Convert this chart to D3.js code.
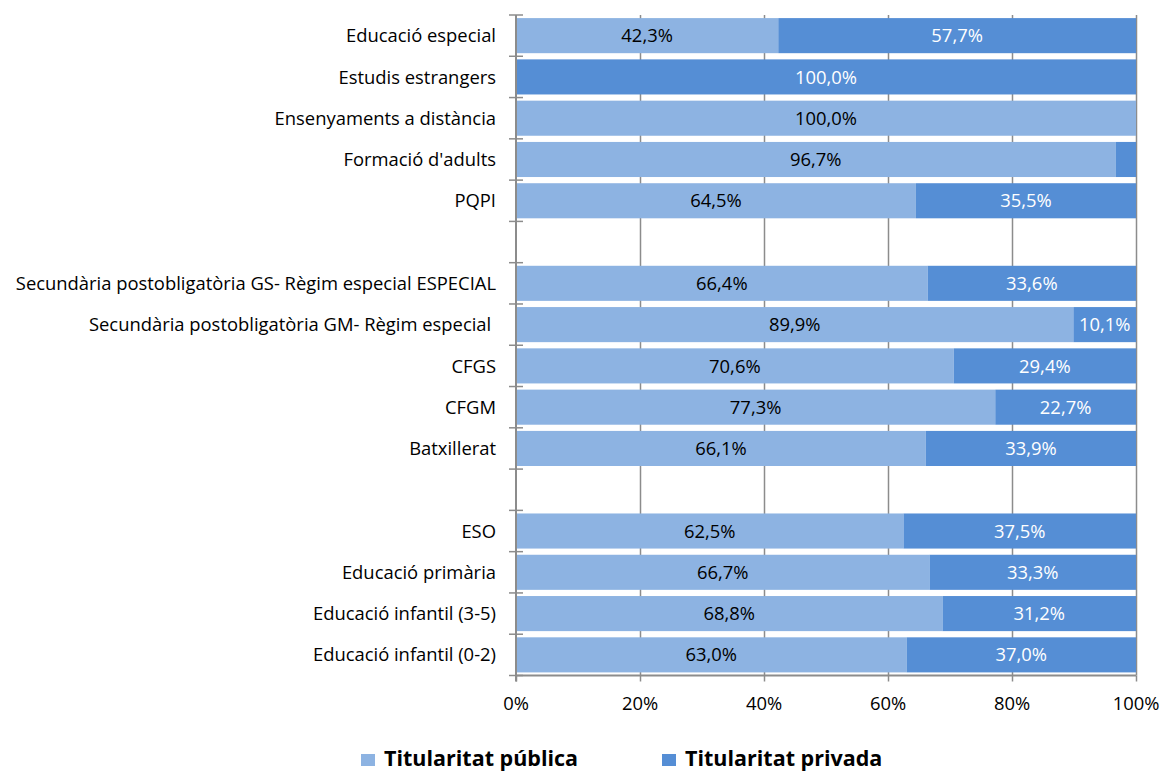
<!DOCTYPE html>
<html><head><meta charset="utf-8">
<script src="https://cdn.jsdelivr.net/npm/d3@7"></script>
<style>body{margin:0;background:#fff;} svg{display:block;} .ylab{white-space:pre;}</style>
</head><body>
<svg id="c" width="1162" height="771"></svg>
<script>
const categories = ["Educació especial","Estudis estrangers","Ensenyaments a distància","Formació d'adults","PQPI","",
 "Secundària postobligatòria GS- Règim especial ESPECIAL","Secundària postobligatòria GM- Règim especial ","CFGS","CFGM","Batxillerat"," ",
 "ESO","Educació primària","Educació infantil (3-5)","Educació infantil (0-2)"];
const publica = [42.3,0,100,96.7,64.5,null,66.4,89.9,70.6,77.3,66.1,null,62.5,66.7,68.8,63.0];
const privada = [57.7,100,0,3.3,35.5,null,33.6,10.1,29.4,22.7,33.9,null,37.5,33.3,31.2,37.0];
const showLabel = [[true,true],[false,true],[true,false],[true,false],[true,true],[false,false],[true,true],[true,true],[true,true],[true,true],[true,true],[false,false],[true,true],[true,true],[true,true],[true,true]];
const xTicks = [0,20,40,60,80,100];
const seriesNames = ["Titularitat pública","Titularitat privada"];
const colors = ["#8DB3E2","#558ED5"];
const font = "'Open Sans', sans-serif";
const fs = 18.4;

const svg = d3.select("#c");
const L=516,R=1136,T=15,B=675.5;
const x = d3.scaleLinear().domain([0,100]).range([L,R]);
const y = d3.scaleBand().domain(d3.range(categories.length)).range([T,B]).paddingInner(0.15).paddingOuter(0.075);
const yb = d3.scaleBand().domain(d3.range(categories.length)).range([T,B]);

// gridlines
svg.append("g").selectAll("line").data(xTicks.slice(1)).join("line")
 .attr("x1",d=>Math.round(x(d))+0.5).attr("x2",d=>Math.round(x(d))+0.5).attr("y1",T).attr("y2",B)
 .attr("stroke","#8c8c8c").attr("stroke-width",1.5);

const fmt = v => v.toFixed(1).replace(".",",")+"%";
const g = svg.append("g");
categories.forEach((c,i)=>{
  if(publica[i]===null) return;
  const segs=[[0,publica[i]],[publica[i],publica[i]+privada[i]]];
  segs.forEach((s,k)=>{
    if(s[1]-s[0]<=0) return;
    g.append("rect").attr("x",x(s[0])).attr("width",x(s[1])-x(s[0]))
     .attr("y",y(i)).attr("height",y.bandwidth()).attr("fill",colors[k]);
    if(showLabel[i][k]){
      g.append("text").attr("x",(x(s[0])+x(s[1]))/2).attr("y",y(i)+y.bandwidth()/2)
       .attr("dy","0.36em").attr("text-anchor","middle").attr("font-family",font).attr("font-size",fs)
       .attr("fill",k===0?"#000":"#fff").text(fmt(k===0?publica[i]:privada[i]));
    }
  });
});

// y axis
svg.append("line").attr("x1",L).attr("x2",L).attr("y1",T).attr("y2",B+6).attr("stroke","#8c8c8c").attr("stroke-width",2);
const yt = d3.range(categories.length+1).map(i=>T+i*yb.bandwidth());
svg.append("g").selectAll("line").data(yt).join("line")
 .attr("x1",509).attr("x2",523).attr("y1",d=>d).attr("y2",d=>d).attr("stroke","#8c8c8c").attr("stroke-width",1.5);
svg.append("g").selectAll("text").data(categories).join("text").attr("class","ylab")
 .attr("x",496).attr("y",(d,i)=>yb(i)+yb.bandwidth()/2).attr("dy","0.36em").attr("text-anchor","end")
 .attr("font-family",font).attr("font-size",fs).attr("fill","#000").text(d=>d);

// x axis
svg.append("line").attr("x1",L).attr("x2",R).attr("y1",B).attr("y2",B).attr("stroke","#8c8c8c").attr("stroke-width",2);
svg.append("g").selectAll("line").data(xTicks).join("line")
 .attr("x1",d=>Math.round(x(d))+0.5).attr("x2",d=>Math.round(x(d))+0.5).attr("y1",B).attr("y2",B+6)
 .attr("stroke","#8c8c8c").attr("stroke-width",1.5);
svg.append("g").selectAll("text").data(xTicks).join("text")
 .attr("x",d=>x(d)).attr("y",710).attr("text-anchor","middle").attr("font-family",font).attr("font-size",fs)
 .text(d=>d+"%");

// legend
const lx=[361,662];
seriesNames.forEach((n,k)=>{
  svg.append("rect").attr("x",lx[k]).attr("y",754).attr("width",14).attr("height",12).attr("fill",colors[k]);
  svg.append("text").attr("x",lx[k]+23).attr("y",766).attr("font-family",font).attr("font-weight","bold")
   .attr("font-size",21.5).attr("fill","#000").text(n);
});
</script>
</body></html>
